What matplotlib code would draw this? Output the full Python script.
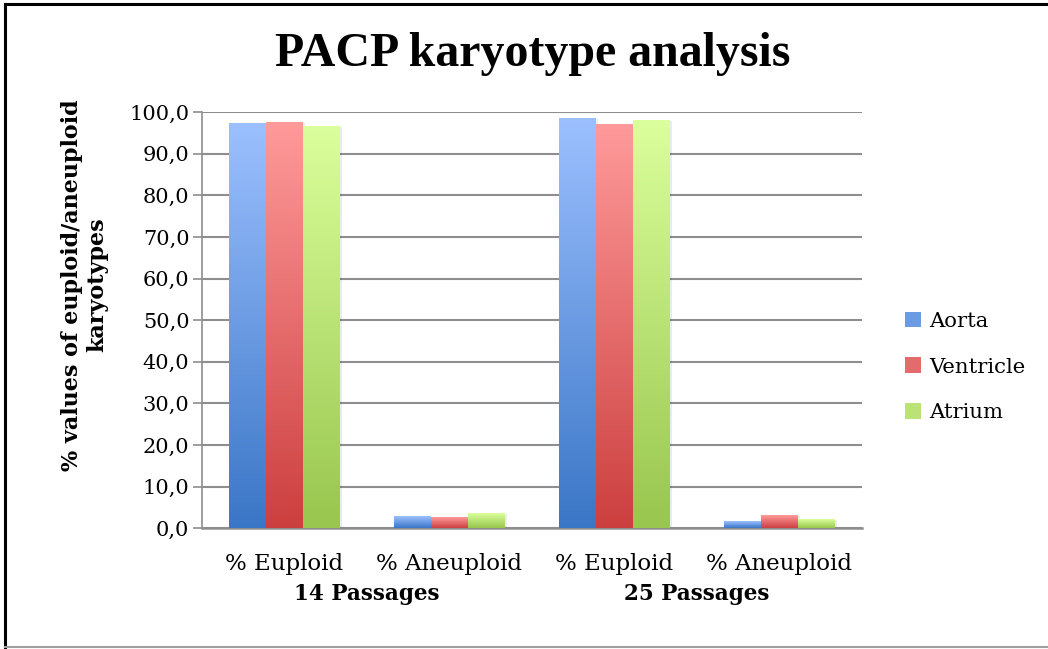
import matplotlib
matplotlib.use("Agg")
import matplotlib.pyplot as plt
import numpy as np
from matplotlib.colors import LinearSegmentedColormap
from matplotlib.lines import Line2D
from matplotlib.patches import Patch

categories = ["% Euploid", "% Aneuploid", "% Euploid", "% Aneuploid"]
groups = ["14 Passages", "25 Passages"]
series_names = ["Aorta", "Ventricle", "Atrium"]
aorta = [97.2, 2.8, 98.4, 1.6]
ventricle = [97.4, 2.6, 97.1, 2.9]
atrium = [96.5, 3.5, 97.9, 2.1]
yticks = [0, 10, 20, 30, 40, 50, 60, 70, 80, 90, 100]

series_values = [aorta, ventricle, atrium]
top_colors = ["#9CC0FF", "#FF9A9A", "#DBFF9C"]
bottom_colors = ["#3A76C6", "#CC3F3F", "#98C64E"]

SERIF = ["DejaVu Serif", "Liberation Serif"]
plt.rcParams["font.family"] = SERIF

fig = plt.figure(figsize=(10.48, 6.49), dpi=100)
ax = fig.add_axes([0.1927, 0.186, 0.6298, 0.641])

n = len(series_names)
width = 0.224
x = np.arange(len(categories))
grad = np.linspace(1, 0, 256).reshape(-1, 1)

for i, (name, vals) in enumerate(zip(series_names, series_values)):
    cmap = LinearSegmentedColormap.from_list(name, [bottom_colors[i], top_colors[i]])
    offs = x + (i - (n - 1) / 2) * width
    bars = ax.bar(offs, vals, width, color="none", edgecolor="none", label=name, zorder=3)
    for b in bars:
        x0, y0 = b.get_x(), b.get_y()
        w, h = b.get_width(), b.get_height()
        ax.bar(x0 + w / 2 + 0.012, h, w, bottom=0, color="#000000", alpha=0.08,
               edgecolor="none", zorder=2)
        ax.imshow(grad, extent=(x0, x0 + w, y0, y0 + h), aspect="auto",
                  cmap=cmap, vmin=0, vmax=1, zorder=3, origin="upper")

ax.set_xlim(-0.5, len(categories) - 0.5)
ax.set_ylim(0, 100)

ax.set_yticks(yticks)
ax.set_yticklabels([f"{v:.1f}".replace(".", ",") for v in yticks], fontsize=15)
ax.yaxis.grid(True, color="#8E8E8E", linewidth=1.5, zorder=0)
ax.set_axisbelow(True)
ax.tick_params(axis="y", length=6.5, width=1.2, color="#8E8E8E", pad=2.5)
ax.set_xticks(x)
ax.set_xticklabels(categories, fontsize=16.5)
ax.tick_params(axis="x", length=0, pad=18)
for s in ["top", "right"]:
    ax.spines[s].set_visible(False)
ax.spines["left"].set_color("#8E8E8E")
ax.spines["left"].set_linewidth(1.2)
ax.spines["bottom"].set_color("#8E8E8E")
ax.spines["bottom"].set_linewidth(1.8)

for gi, g in enumerate(groups):
    ax.text(gi * 2 + 0.5, -0.157, g, transform=ax.get_xaxis_transform(),
            ha="center", va="center", fontsize=15.5, fontweight="bold")

fig.text(0.0805, 0.561, "% values of euploid/aneuploid\nkaryotypes", rotation=90,
         ha="center", va="center", fontsize=16, fontweight="bold",
         linespacing=1.2, multialignment="center")

fig.text(0.508, 0.917, "PACP karyotype analysis", ha="center", va="center",
         fontsize=34.5, fontweight="bold", family=["Liberation Serif", "DejaVu Serif"])

handles = [Patch(facecolor=c, edgecolor="none") for c in
           ["#6A9BE3", "#E46B6B", "#BBE276"]]
fig.legend(handles, series_names, loc="center left",
           bbox_to_anchor=(0.845, 0.4345), frameon=False, fontsize=15.3,
           handlelength=0.75, handleheight=0.75, handletextpad=0.4,
           labelspacing=1.25)

# outer frame
fig.add_artist(Line2D([0.0045, 1.0], [0.994, 0.994], transform=fig.transFigure,
                      color="black", linewidth=2.2))
fig.add_artist(Line2D([0.0045, 0.0045], [0.0, 0.994], transform=fig.transFigure,
                      color="black", linewidth=2.2))
fig.add_artist(Line2D([0.0045, 1.0], [0.003, 0.003], transform=fig.transFigure,
                      color="#A0A0A0", linewidth=1.5))

fig.savefig("out.png", dpi=100)
